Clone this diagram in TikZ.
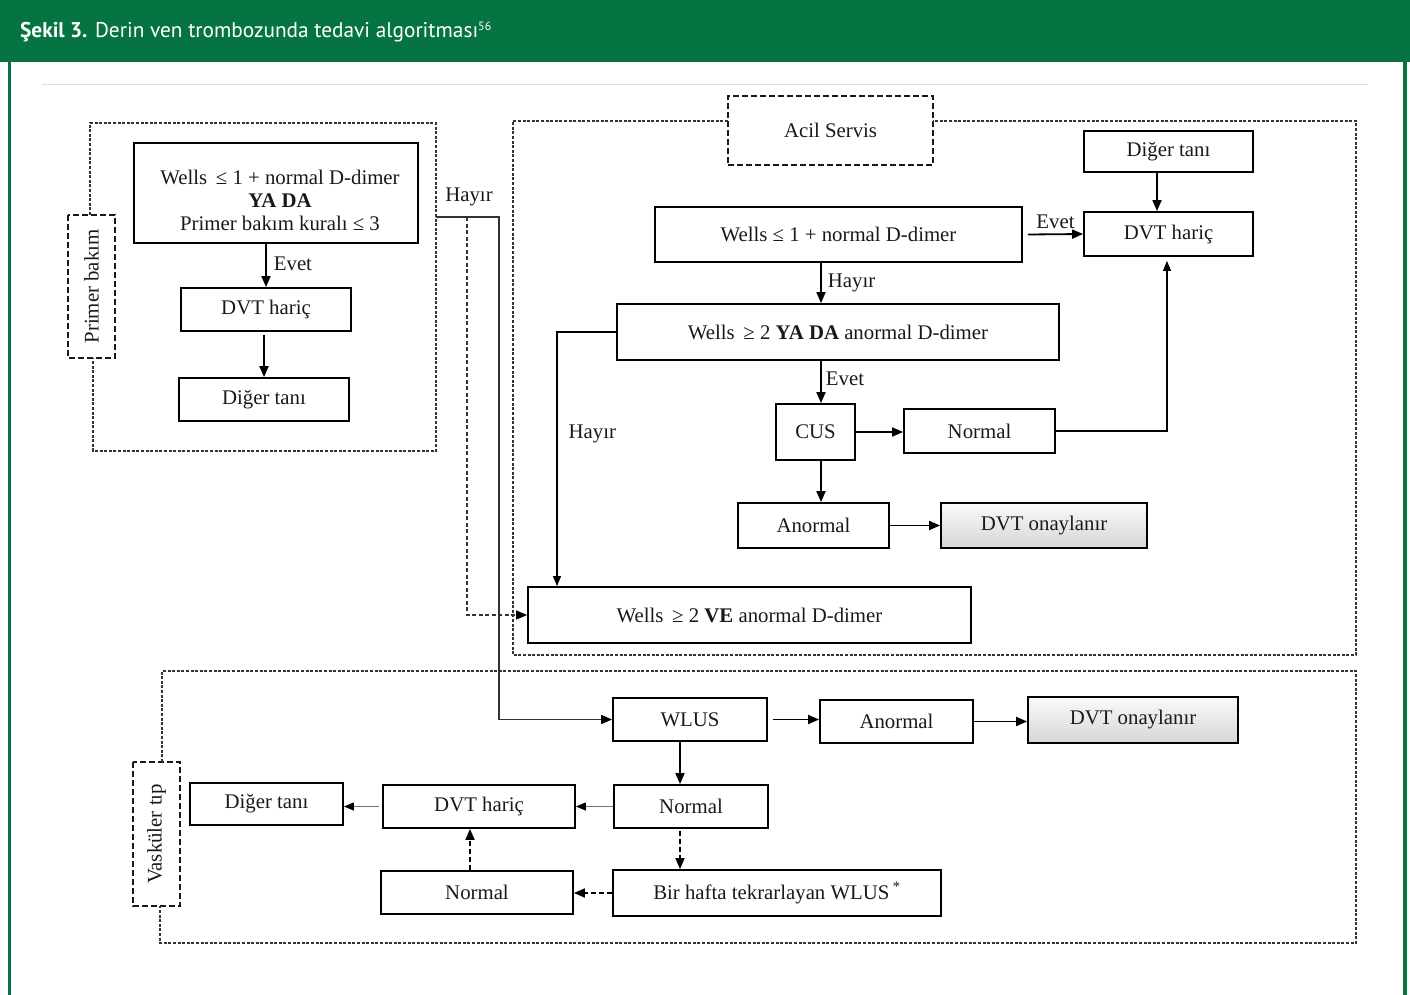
\documentclass[tikz,border=0pt]{standalone}
\usepackage{fontspec}
\setmainfont{Liberation Serif}
\newfontfamily\hdrfont{PT Sans}
\usetikzlibrary{arrows.meta,calc}
\definecolor{hdr}{RGB}{5,116,66}
\newcommand\mainfs{\fontsize{20.8}{23}\selectfont}
\tikzset{
  bx/.style={draw=black, line width=1.8pt, inner sep=1pt, align=center, font=\mainfs, text=black!90},
  onay/.style={bx, top color=gray!4, bottom color=gray!32},
  lab/.style={font=\mainfs, inner sep=1pt, text=black!90},
  tagbox/.style={draw=black!90, line width=2.2pt, dash pattern=on 6pt off 3pt, inner sep=0pt, font=\mainfs, text=black!90},
  region/.style={draw=black!80, line width=1.3pt, dash pattern=on 3pt off 1.6pt},
  arr/.style={line width=1.8pt, -{Triangle[length=11pt,width=9pt]}},
  tarr/.style={line width=1.2pt, -{Triangle[length=10pt,width=8pt]}},
  garr/.style={line width=1.2pt, draw=black!55, -{Triangle[length=10pt,width=8pt,color=black,fill=black]}},
  darr/.style={line width=1.8pt, dash pattern=on 5pt off 3pt, -{Triangle[length=11pt,width=9pt]}},
  fdarr/.style={line width=1.4pt, draw=black!80, dash pattern=on 4pt off 2.5pt, -{Triangle[length=11pt,width=9pt,color=black,fill=black]}},
  hline/.style={line width=1.6pt, draw=black!80, -{Triangle[length=11pt,width=9pt,color=black,fill=black]}},
}
\begin{document}
\begin{tikzpicture}[x=1pt,y=-1pt]
\useasboundingbox (0,0) rectangle (1410,995);
% header and frame
\fill[hdr] (0,0) rectangle (1410,62);
\fill[hdr] (8,62) rectangle (11,995);
\fill[hdr] (1403,62) rectangle (1407,995);
\node[anchor=base west, text=white, inner sep=0pt, font=\hdrfont\fontsize{21.3}{24}\selectfont] (title) at (20,38)
  {\textbf{Şekil 3.} Derin ven trombozunda tedavi algoritması\textsuperscript{\fontsize{12}{12}\selectfont 56}};
\draw[gray!25, line width=1pt] (42,85) -- (1368,85);

% ---------------- Primer bakim ----------------
\node[tagbox, rotate=90, minimum width=143pt, minimum height=47pt] (pb) at (91.5,286.5) {Primer bakım};
\draw[region] (90,215) -- (90,123) -- (436,123) -- (436,451) -- (93,451) -- (93,358);
\node[bx, minimum width=284pt, minimum height=100pt] (b1) at (276,193)
  {\parbox{276pt}{\centering\vspace*{14pt}\hspace*{8pt}Wells \,≤ 1 + normal D-dimer\\ \hspace*{8pt}\textbf{YA DA}\\ \hspace*{8pt}Primer bakım kuralı ≤ 3}};
\node[bx, minimum width=170pt, minimum height=43pt] (dvt1) at (266,309.5) {DVT hariç};
\node[bx, minimum width=170pt, minimum height=43pt] (dig1) at (264,399.5) {Diğer tanı};
\draw[arr] (dvt1.north |- b1.south) -- (dvt1.north) node[lab, midway, right, xshift=6pt, yshift=2pt] {Evet};
\draw[arr] ([yshift=-3pt]dig1.north |- dvt1.south) -- (dig1.north);

% ---------------- Acil Servis ----------------
\node[tagbox, minimum width=205pt, minimum height=69pt] (acil) at (830.5,130.5) {Acil Servis};
\draw[region] (728,121) -- (513,121) -- (513,655) -- (1356,655) -- (1356,121) -- (933,121);
\node[bx, minimum width=169pt, minimum height=41pt] (dig2) at (1168.5,151.5) {Diğer tanı};
\node[bx, minimum width=169pt, minimum height=44pt] (dvt2) at (1168.5,234) {DVT hariç};
\node[bx, minimum width=367pt, minimum height=55pt] (w1) at (838.5,234.5) {Wells ≤ 1 + normal D-dimer};
\node[bx, minimum width=442pt, minimum height=56pt] (w2) at (838,332) {Wells \,≥ 2 \textbf{YA DA} anormal D-dimer};
\node[bx, minimum width=79pt, minimum height=56pt] (cus) at (815.5,432) {CUS};
\node[bx, minimum width=151pt, minimum height=44pt] (nor1) at (979.5,431) {Normal};
\node[bx, minimum width=151pt, minimum height=45pt] (ano1) at (813.5,525.5) {Anormal};
\node[onay, minimum width=206pt, minimum height=45pt] (onay1) at (1044,525.5) {DVT onaylanır};
\node[bx, minimum width=443pt, minimum height=56pt] (w3) at (749.5,615) {Wells \,≥ 2 \textbf{VE} anormal D-dimer};

\draw[arr] ([xshift=-11.5pt]dig2.south) -- ([xshift=-11.5pt]dvt2.north);
\draw[arr] ([xshift=5pt]w1.east) -- (dvt2.west) node[lab, midway, above, yshift=4pt] {Evet};
\draw[arr] ([xshift=-17.5pt]w1.south) -- ([xshift=-17.5pt]w1.south |- w2.north) node[lab, midway, right, xshift=5pt] {Hayır};
\draw[tarr] (w2.west) -| ([xshift=-192.5pt]w3.north) node[lab, pos=0.7, right, xshift=10pt] {Hayır};
\draw[arr] ([xshift=-17pt]w2.south) -- ([xshift=-17pt]w2.south |- cus.north) node[lab, midway, right, xshift=3pt, yshift=3pt] {Evet};
\draw[arr] (cus.east) -- (cus.east -| nor1.west);
\draw[tarr] (nor1.east) -| ([xshift=-1.5pt,yshift=-4pt]dvt2.south);
\draw[arr] ([xshift=5.5pt]cus.south) -- ([xshift=5.5pt]cus.south |- ano1.north);
\draw[arr] (ano1.east) -- (onay1.west);

% ---------------- Vaskuler tip ----------------
\node[tagbox, rotate=90, minimum width=144pt, minimum height=47pt] (vt) at (156.5,834) {Vasküler tıp};
\draw[region] (162,762) -- (162,671) -- (1356,671) -- (1356,943) -- (160,943) -- (160,906);
\node[bx, minimum width=154pt, minimum height=43pt] (wlus) at (690,719.5) {WLUS};
\node[bx, minimum width=153pt, minimum height=43pt] (ano2) at (896.5,721.5) {Anormal};
\node[onay, minimum width=210pt, minimum height=46pt] (onay2) at (1133,720) {DVT onaylanır};
\node[bx, minimum width=154pt, minimum height=43pt] (nor2) at (691,806.5) {Normal};
\node[bx, minimum width=192pt, minimum height=43pt] (dvt3) at (479,806.5) {DVT hariç};
\node[bx, minimum width=153pt, minimum height=42pt] (dig3) at (266.5,804) {Diğer tanı};
\node[bx, minimum width=328pt, minimum height=46pt] (bir) at (777,893) {Bir hafta tekrarlayan WLUS\,\textsuperscript{*}};
\node[bx, minimum width=192pt, minimum height=43pt] (nor3) at (477,892.5) {Normal};

\draw[arr] ([xshift=5pt]wlus.east) -- (wlus.east -| ano2.west);
\draw[arr] (ano2.east) -- (ano2.east -| onay2.west);
\draw[arr] ([xshift=-10pt]wlus.south) -- ([xshift=-10pt]wlus.south |- nor2.north);
\draw[garr] (nor2.west) -- (nor2.west -| dvt3.east);
\draw[garr] ([xshift=-3pt]dvt3.west) -- (dvt3.west -| dig3.east);
\draw[darr] ([xshift=-11pt,yshift=-2pt]nor2.south) -- ([xshift=-11pt]nor2.south |- bir.north);
\draw[darr] (bir.west) -- (bir.west -| nor3.east);
\draw[darr] ([xshift=-7pt]nor3.north) -- ([xshift=-7pt]nor3.north |- dvt3.south);

% ---------------- cross-region connectors ----------------
\coordinate (h0) at (436,217);
\coordinate (h1) at (467,217);
\draw[hline] (h0) -- (499,217) |- (wlus.west);
\node[lab] (hay0) at (469,197) {Hayır};
\draw[fdarr] (h1) |- (w3.west);
\end{tikzpicture}
\end{document}
